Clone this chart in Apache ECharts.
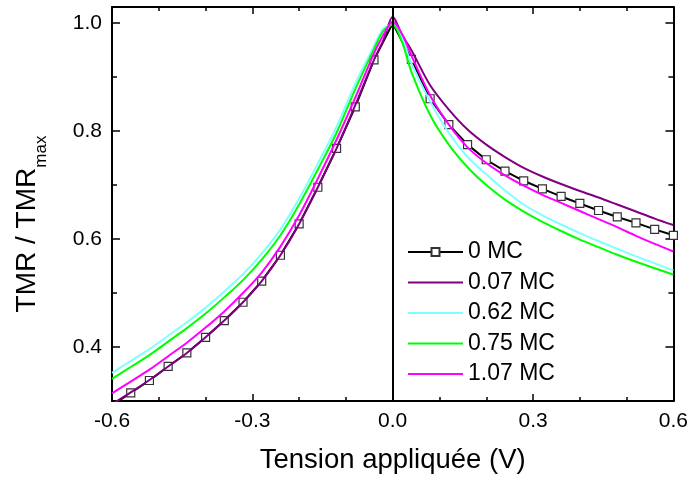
<!DOCTYPE html>
<html>
<head>
<meta charset="utf-8">
<script src="https://cdn.jsdelivr.net/npm/echarts@6/dist/echarts.min.js"></script>
<style>
  html, body { margin: 0; padding: 0; background: #fff; }
  #chart { width: 691px; height: 479px; }
</style>
</head>
<body>
<div id="chart"></div>
<script>
// tension (V) for the 0 MC measurement (markers every 0.04 V)
const voltsMC0 = [-0.6, -0.56, -0.52, -0.48, -0.44, -0.4, -0.36, -0.32, -0.28, -0.24, -0.2, -0.16, -0.12, -0.08, -0.04,
  0, 0.04, 0.08, 0.12, 0.16, 0.2, 0.24, 0.28, 0.32, 0.36, 0.4, 0.44, 0.48, 0.52, 0.56, 0.6];
const tmrMC0 = [0.292, 0.315, 0.338, 0.364, 0.389, 0.418, 0.449, 0.483, 0.522, 0.570, 0.628, 0.696, 0.768, 0.845, 0.932,
  1.0, 0.933, 0.860, 0.812, 0.775, 0.747, 0.726, 0.708, 0.693, 0.679, 0.666, 0.653, 0.641, 0.630, 0.618, 0.607];

// tension (V) for the other coverages
const volts = [-0.6, -0.56, -0.52, -0.48, -0.44, -0.4, -0.36, -0.32, -0.28, -0.24, -0.2, -0.16, -0.12, -0.08, -0.04, -0.02,
  0, 0.02, 0.04, 0.08, 0.12, 0.16, 0.2, 0.24, 0.28, 0.32, 0.36, 0.4, 0.44, 0.48, 0.52, 0.56, 0.6];
const tmrMC007 = [0.294, 0.316, 0.339, 0.364, 0.389, 0.418, 0.449, 0.483, 0.522, 0.570, 0.628, 0.696, 0.768, 0.848, 0.932, 0.968,
  1.012, 0.978, 0.950, 0.885, 0.840, 0.803, 0.775, 0.752, 0.732, 0.716, 0.702, 0.689, 0.677, 0.664, 0.651, 0.638, 0.626];
const tmrMC062 = [0.352, 0.374, 0.396, 0.421, 0.446, 0.473, 0.503, 0.535, 0.573, 0.618, 0.675, 0.740, 0.808, 0.888, 0.958, 0.990,
  0.997, 0.972, 0.925, 0.855, 0.797, 0.752, 0.720, 0.690, 0.664, 0.644, 0.627, 0.611, 0.596, 0.582, 0.568, 0.555, 0.542];
const tmrMC075 = [0.341, 0.363, 0.385, 0.410, 0.435, 0.462, 0.492, 0.524, 0.562, 0.607, 0.664, 0.729, 0.797, 0.878, 0.952, 0.986,
  0.997, 0.965, 0.910, 0.830, 0.775, 0.733, 0.700, 0.673, 0.651, 0.632, 0.615, 0.599, 0.585, 0.571, 0.558, 0.546, 0.534];
const tmrMC107 = [0.314, 0.336, 0.358, 0.383, 0.408, 0.436, 0.466, 0.500, 0.538, 0.586, 0.644, 0.712, 0.784, 0.862, 0.944, 0.978,
  1.003, 0.980, 0.940, 0.866, 0.812, 0.770, 0.741, 0.718, 0.699, 0.682, 0.667, 0.652, 0.637, 0.622, 0.606, 0.591, 0.577];

const seriesNames = ['0 MC', '0.07 MC', '0.62 MC', '0.75 MC', '1.07 MC'];
const curveColors = ['#800080', '#80ffff', '#00ff00', '#ff00ff'];

const yTicksMajor = [0.4, 0.6, 0.8, 1.0];
const yTicksMinor = [0.5, 0.7, 0.9];

const font = '"Liberation Sans", Arial, sans-serif';
const lineIcon = 'path://M0,0H55V2H0Z';

const myChart = echarts.init(document.getElementById('chart'));

function zip(xs, ys) {
  return xs.map((x, i) => [x, ys[i]]);
}

function xAxisDef(pos, labels) {
  return {
    type: 'value',
    position: pos,
    min: -0.6,
    max: 0.6,
    interval: 0.3,
    axisLine: { show: true, onZero: false, lineStyle: { color: '#000', width: 2 } },
    axisTick: { show: true, inside: true, length: 7, lineStyle: { color: '#000', width: 1.5 } },
    minorTick: { show: true, splitNumber: 3, length: 4, lineStyle: { color: '#000', width: 1.5 } },
    axisLabel: {
      show: labels,
      margin: 10,
      fontSize: 21,
      color: '#000',
      fontFamily: font,
      formatter: v => v.toFixed(1)
    },
    splitLine: { show: false },
    name: labels ? 'Tension appliquée (V)' : '',
    nameLocation: 'middle',
    nameGap: 45,
    nameTextStyle: { fontSize: 27.5, color: '#000', fontFamily: font }
  };
}

function yAxisDef(pos, major, labels) {
  const ticks = major ? yTicksMajor : yTicksMinor;
  return {
    type: 'value',
    position: pos,
    offset: 0,
    min: 0.3,
    max: 1.03,
    axisLine: { show: major, onZero: false, lineStyle: { color: '#000', width: 2 } },
    axisTick: { show: true, inside: true, length: major ? 8 : 5, customValues: ticks, lineStyle: { color: '#000', width: 1.5 } },
    axisLabel: {
      show: labels,
      customValues: yTicksMajor,
      margin: 10,
      fontSize: 21,
      color: '#000',
      fontFamily: font,
      formatter: v => v.toFixed(1)
    },
    splitLine: { show: false },
    name: labels ? '{a|TMR / TMR}{b|max}' : '',
    nameLocation: 'middle',
    nameGap: 71,
    nameTextStyle: {
      color: '#000',
      fontFamily: font,
      padding: [0, 40, 0, 0],
      rich: {
        a: { fontSize: 28, color: '#000', fontFamily: font },
        b: { fontSize: 17, color: '#000', fontFamily: font, verticalAlign: 'bottom', padding: [0, 0, -9, 0] }
      }
    }
  };
}

const seriesarr = [{
  name: seriesNames[0],
  type: 'line',
  xAxisIndex: 0,
  yAxisIndex: 0,
  data: voltsMC0.map((x, i) => x === 0
    ? { value: [x, tmrMC0[i]], symbol: 'none' }
    : { value: [x, tmrMC0[i]] }),
  symbol: 'rect',
  symbolSize: 8,
  showAllSymbol: true,
  itemStyle: { color: '#fff', borderColor: '#333', borderWidth: 1.2 },
  lineStyle: { color: '#000', width: 2 },
  clip: true,
  z: 2,
  markLine: {
    silent: true,
    symbol: 'none',
    label: { show: false },
    lineStyle: { color: '#000', width: 2, type: 'solid' },
    data: [{ xAxis: 0 }]
  }
}];

const curveData = [tmrMC007, tmrMC062, tmrMC075, tmrMC107];
curveData.forEach((ys, k) => {
  seriesarr.push({
    name: seriesNames[k + 1],
    type: 'line',
    xAxisIndex: 0,
    yAxisIndex: 0,
    data: zip(volts, ys),
    symbol: 'none',
    smooth: 0.3,
    lineStyle: { color: curveColors[k], width: 2 },
    itemStyle: { color: curveColors[k] },
    clip: true,
    z: 3
  });
});

const legendItems = seriesNames.map((n, i) => i === 0 ? { name: n } : { name: n, icon: lineIcon });

const option = {
  animation: false,
  backgroundColor: '#fff',
  grid: { left: 112, right: 15, top: 7, bottom: 78, containLabel: false },
  legend: {
    data: legendItems,
    orient: 'vertical',
    left: 402,
    top: 235,
    itemWidth: 55,
    itemHeight: 10,
    itemGap: 6.5,
    textStyle: { fontSize: 23, color: '#000', fontFamily: font, lineHeight: 24 }
  },
  xAxis: [xAxisDef('bottom', true), xAxisDef('top', false)],
  yAxis: [
    yAxisDef('left', true, true),
    yAxisDef('left', false, false),
    yAxisDef('right', true, false),
    yAxisDef('right', false, false)
  ],
  series: seriesarr
};

myChart.setOption(option);
</script>
</body>
</html>
